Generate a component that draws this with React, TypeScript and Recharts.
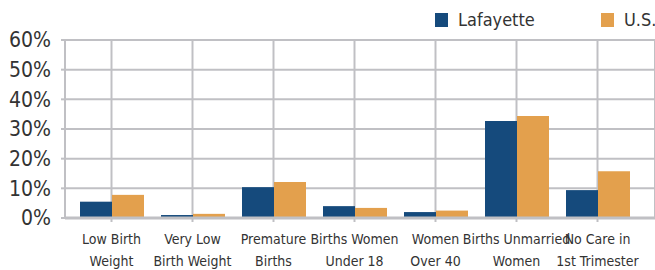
import { Bar, BarChart, CartesianGrid, XAxis, YAxis } from "recharts";

const categories = [
  "Low Birth\nWeight",
  "Very Low\nBirth Weight",
  "Premature\nBirths",
  "Births Women\nUnder 18",
  "Women\nOver 40",
  "Births Unmarried\nWomen",
  "No Care in\n1st Trimester",
];
const lafayette = [5.5, 1.0, 10.4, 4.0, 2.0, 32.7, 9.4];
const us = [7.8, 1.4, 12.1, 3.4, 2.5, 34.4, 15.8];
const yTicks = [0, 10, 20, 30, 40, 50, 60];

const BLUE = "#154a7c";
const ORANGE = "#e3a04d";
const GRID = "#c0c0c4";
const TEXT = "#333333";
const FONT = "'DejaVu Sans Condensed', 'DejaVu Sans', sans-serif";

const data = categories.map((name, i) => ({ name, lafayette: lafayette[i], us: us[i] }));

const series = [
  { key: "lafayette", label: "Lafayette", color: BLUE },
  { key: "us", label: "U.S.", color: ORANGE },
];

function CategoryTick({ x, y, payload }: any) {
  const lines = String(payload.value).split("\n");
  return (
    <text
      x={x}
      y={y}
      textAnchor="middle"
      fill={TEXT}
      fontSize={14}
      fontFamily={FONT}
      style={{ fontStretch: "condensed" }}
    >
      {lines.map((line, i) => (
        <tspan key={i} x={x} dy={i === 0 ? 20 : 22}>
          {line}
        </tspan>
      ))}
    </text>
  );
}

export default function App() {
  return (
    <div style={{ position: "relative", width: 655, height: 270 }}>
      <style>{"body{margin:0;background:#fff}"}</style>
      {series.map((s, i) => (
        <div
          key={s.key}
          style={{
            position: "absolute",
            left: i === 0 ? 435 : 601,
            top: 9,
            display: "flex",
            alignItems: "center",
            fontFamily: FONT,
            fontStretch: "condensed",
            fontSize: 18,
            color: TEXT,
            whiteSpace: "nowrap",
            zIndex: 2,
          }}
        >
          <span style={{ width: 13, height: 14, background: s.color, marginRight: 10 }} />
          {s.label}
        </div>
      ))}
      <BarChart
        width={655}
        height={270}
        data={data}
        margin={{ top: 40, right: 0, bottom: 0, left: 0 }}
        barCategoryGap={9}
        barGap={0}
      >
        <CartesianGrid stroke={GRID} strokeWidth={2} vertical horizontal />
        <XAxis
          dataKey="name"
          interval={0}
          padding={{ left: 6, right: 17 }}
          height={52}
          tick={<CategoryTick />}
          tickLine={{ stroke: GRID, strokeWidth: 2 }}
          tickSize={4}
          axisLine={{ stroke: GRID, strokeWidth: 3 }}
        />
        <YAxis
          domain={[0, 60]}
          ticks={yTicks}
          interval={0}
          width={65}
          tickFormatter={(v) => `${v}%`}
          tick={{ fill: TEXT, fontSize: 21, fontFamily: FONT, dx: -8, style: { fontStretch: "condensed" } }}
          tickLine={{ stroke: GRID, strokeWidth: 2 }}
          tickSize={4}
          axisLine={{ stroke: GRID, strokeWidth: 2 }}
        />
        {series.map((s) => (
          <Bar key={s.key} dataKey={s.key} name={s.label} fill={s.color} isAnimationActive={false} />
        ))}
      </BarChart>
    </div>
  );
}
